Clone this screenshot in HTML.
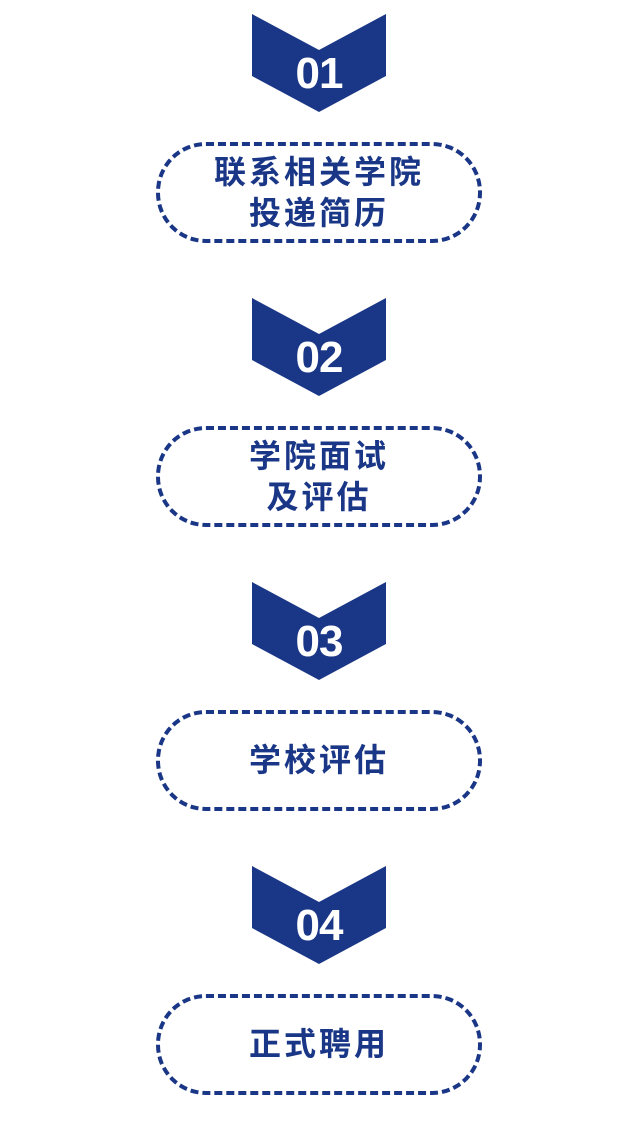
<!DOCTYPE html>
<html><head><meta charset="utf-8"><style>
html,body{margin:0;padding:0;background:#fff;width:638px;height:1126px;overflow:hidden;position:relative}
.blk{position:absolute;left:0;width:638px}
svg{position:absolute;left:252px;top:0}
.num{position:absolute;left:252px;width:134px;top:38px;text-align:center;color:#fff;font:bold 44px "Liberation Sans",sans-serif;letter-spacing:-1px;line-height:44px}
.box{position:absolute;left:156px;top:128px;width:318px;height:93px;border:4px dashed #1a3686;border-radius:50px;display:flex;align-items:center;justify-content:center;text-align:center;color:#1a3686;font:bold 32px/41px "Liberation Sans","Noto Sans CJK SC",sans-serif;letter-spacing:3px}
</style></head><body>
<div class="blk" style="top:14px">
<svg width="134" height="100"><polygon points="0,0 67,36 134,0 134,62 67,98 0,62" fill="#1a3686"/></svg>
<div class="num">01</div>
<div class="box">联系相关学院<br>投递简历</div></div>
<div class="blk" style="top:298px">
<svg width="134" height="100"><polygon points="0,0 67,36 134,0 134,62 67,98 0,62" fill="#1a3686"/></svg>
<div class="num">02</div>
<div class="box">学院面试<br>及评估</div></div>
<div class="blk" style="top:582px">
<svg width="134" height="100"><polygon points="0,0 67,36 134,0 134,62 67,98 0,62" fill="#1a3686"/></svg>
<div class="num">03</div>
<div class="box">学校评估</div></div>
<div class="blk" style="top:866px">
<svg width="134" height="100"><polygon points="0,0 67,36 134,0 134,62 67,98 0,62" fill="#1a3686"/></svg>
<div class="num">04</div>
<div class="box">正式聘用</div></div>
</body></html>
